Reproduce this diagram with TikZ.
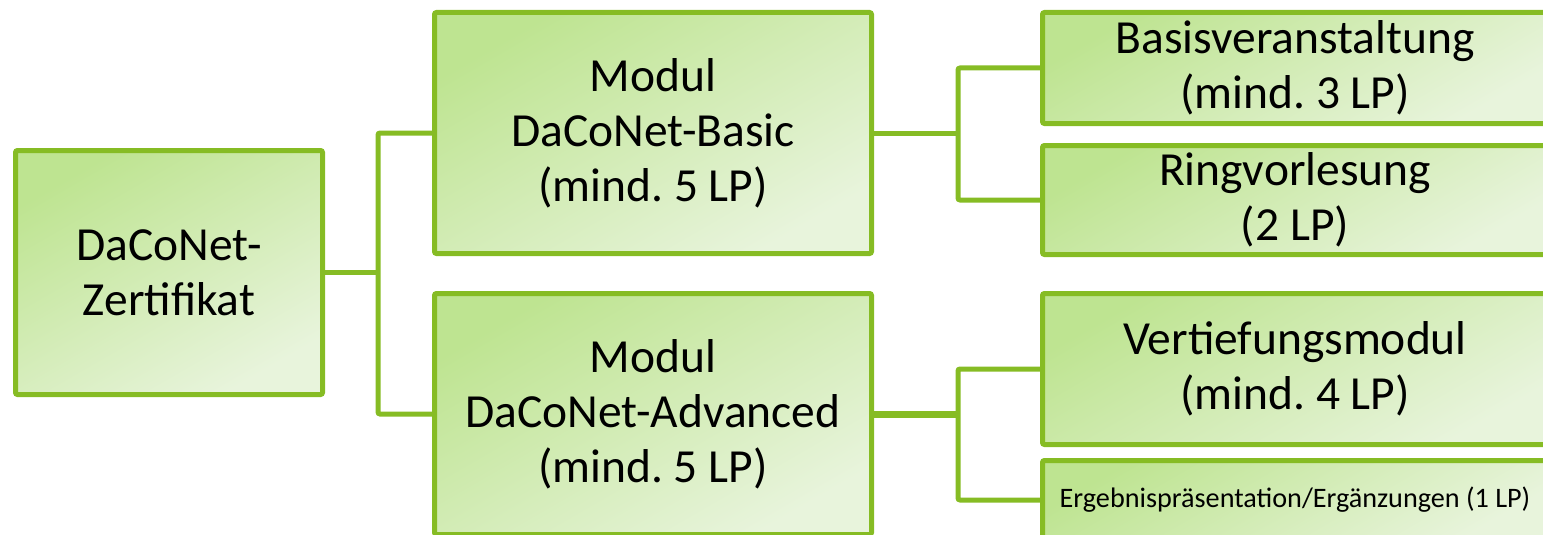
\documentclass[tikz,border=0pt]{standalone}
\usepackage{fontspec}
\setmainfont{Carlito}
\frenchspacing
\definecolor{boxline}{RGB}{134,188,36}
\definecolor{boxtop}{RGB}{190,228,145}
\definecolor{boxbot}{RGB}{232,244,220}

\begin{document}
\begin{tikzpicture}[x=1pt,y=-1pt]
            \tikzstyle{every node}+=[inner sep=0pt]
            \tikzstyle{box}=[draw=boxline, line width=5pt, rounded corners=2pt, top color=boxtop, bottom color=boxbot, shading angle=30, align=center, font=\fontsize{47.5}{55}\selectfont]
            \tikzstyle{link}=[draw=boxline, line width=5pt, rounded corners=2pt]
            \useasboundingbox (0,0) rectangle (1543,535);
            \clip (0,0) rectangle (1543,535);
            \node [box, minimum width=307pt, minimum height=244pt] (root) at (169,272.5) {DaCoNet-\\Zertifikat};
            \node [box, minimum width=437pt, minimum height=241pt] (basic) at (653,133) {Modul\\DaCoNet-Basic\\(mind. 5 LP)};
            \node [box, minimum width=437pt, minimum height=241pt] (adv) at (653,414) {Modul\\DaCoNet-Advanced\\(mind. 5 LP)};
            \node [box, minimum width=505pt, minimum height=111pt] (basis) at (1295,68) {Basisveranstaltung\\(mind. 3 LP)};
            \node [box, minimum width=505pt, minimum height=109pt] (ring) at (1295,200) {Ringvorlesung\\(2 LP)};
            \node [box, minimum width=505pt, minimum height=151pt] (vert) at (1295,369) {Vertiefungsmodul\\(mind. 4 LP)};
            \node [box, minimum width=505pt, minimum height=79pt, font=\fontsize{28.2}{34}\selectfont] (erg) at (1295,500) {Ergebnispräsentation/Ergänzungen (1 LP)};
            \coordinate (jroot) at (378,272.5);
            \coordinate (jbasic) at (958,133);
            \coordinate (jadv) at (958,414);
            \draw [link] (basic.west) -| (jroot) |- (adv.west);
            \draw [link] (root.east) -- (jroot);
            \draw [link] (basis.west) -| (jbasic) |- (ring.west);
            \draw [link] (basic.east) -- (jbasic);
            \draw [link] (vert.west) -| (jadv) |- (erg.west);
            \draw [link, line width=7pt] (adv.east) -- (jadv);
        \end{tikzpicture}
\end{document}
